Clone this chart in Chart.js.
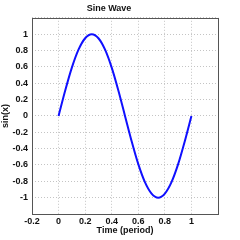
<!DOCTYPE html>
<html>
<head>
<meta charset="utf-8">
<script src="https://cdn.jsdelivr.net/npm/chart.js@4"></script>
<style>
  html, body { margin: 0; padding: 0; background: #fff; }
  canvas { display: block; }
</style>
</head>
<body>
<canvas id="chart" width="240" height="240"></canvas>
<script>
// values
const timeValues = [0, 0.05, 0.1, 0.15, 0.2, 0.25, 0.3, 0.35, 0.4, 0.45, 0.5,
  0.55, 0.6, 0.65, 0.7, 0.75, 0.8, 0.85, 0.9, 0.95, 1]
const sineValues = [0, 0.31, 0.59, 0.81, 0.95, 1, 0.95, 0.81, 0.59, 0.31, 0,
  -0.31, -0.59, -0.81, -0.95, -1, -0.95, -0.81, -0.59, -0.31, 0]
const hiddenXTicks = [1.2]
const hiddenYTicks = [-1.2, 1.2]

const font = { family: "'Liberation Sans', Arial, sans-serif", size: 9, weight: 'bold' }

const hideTick = (list) => (value) => {
  if (list.some(v => Math.abs(v - value) < 1e-9)) return ''
  return Math.round(value * 10) / 10
}

// box around the plot area, like the reference axes frame
const frame = {
  id: 'frame',
  afterDraw(chart) {
    const { ctx, chartArea: a } = chart
    ctx.save()
    ctx.strokeStyle = '#555'
    ctx.lineWidth = 1
    ctx.strokeRect(Math.round(a.left) + 0.5, Math.round(a.top) + 0.5,
      Math.round(a.right - a.left), Math.round(a.bottom - a.top))
    ctx.restore()
  }
}

const ctx = document.getElementById('chart').getContext('2d')

new Chart(ctx, {
  type: 'line',
  data: {
    datasets: [{
      data: timeValues.map((t, i) => ({ x: t, y: sineValues[i] })),
      borderColor: '#1010ff',
      borderWidth: 2,
      pointRadius: 0,
      cubicInterpolationMode: 'monotone',
      fill: false
    }]
  },
  options: {
    responsive: false,
    animation: false,
    layout: { padding: { left: 0, right: 22, top: 0, bottom: 4 } },
    plugins: {
      legend: { display: false },
      tooltip: { enabled: false },
      title: {
        display: true,
        text: 'Sine Wave',
        color: '#111',
        font: font,
        padding: { top: 3, bottom: 4 }
      }
    },
    scales: {
      x: {
        type: 'linear',
        min: -0.2,
        max: 1.2,
        ticks: {
          stepSize: 0.2,
          color: '#111',
          font: font,
          padding: 2,
          maxRotation: 0,
          callback: hideTick(hiddenXTicks)
        },
        grid: { color: '#c4c4c4', drawTicks: false },
        border: { display: false, dash: [1, 2] },
        title: {
          display: true,
          text: 'Time (period)',
          color: '#111',
          font: font,
          padding: 0
        },
        afterFit(scale) { scale.height = 22 }
      },
      y: {
        min: -1.2,
        max: 1.2,
        ticks: {
          stepSize: 0.2,
          color: '#111',
          font: font,
          padding: 4,
          callback: hideTick(hiddenYTicks)
        },
        grid: { color: '#c4c4c4', drawTicks: false },
        border: { display: false, dash: [1, 2] },
        title: {
          display: true,
          text: 'sin(x)',
          color: '#111',
          font: font,
          padding: 0
        },
        afterFit(scale) { scale.width = 32 }
      }
    }
  },
  plugins: [frame]
})
</script>
</body>
</html>
